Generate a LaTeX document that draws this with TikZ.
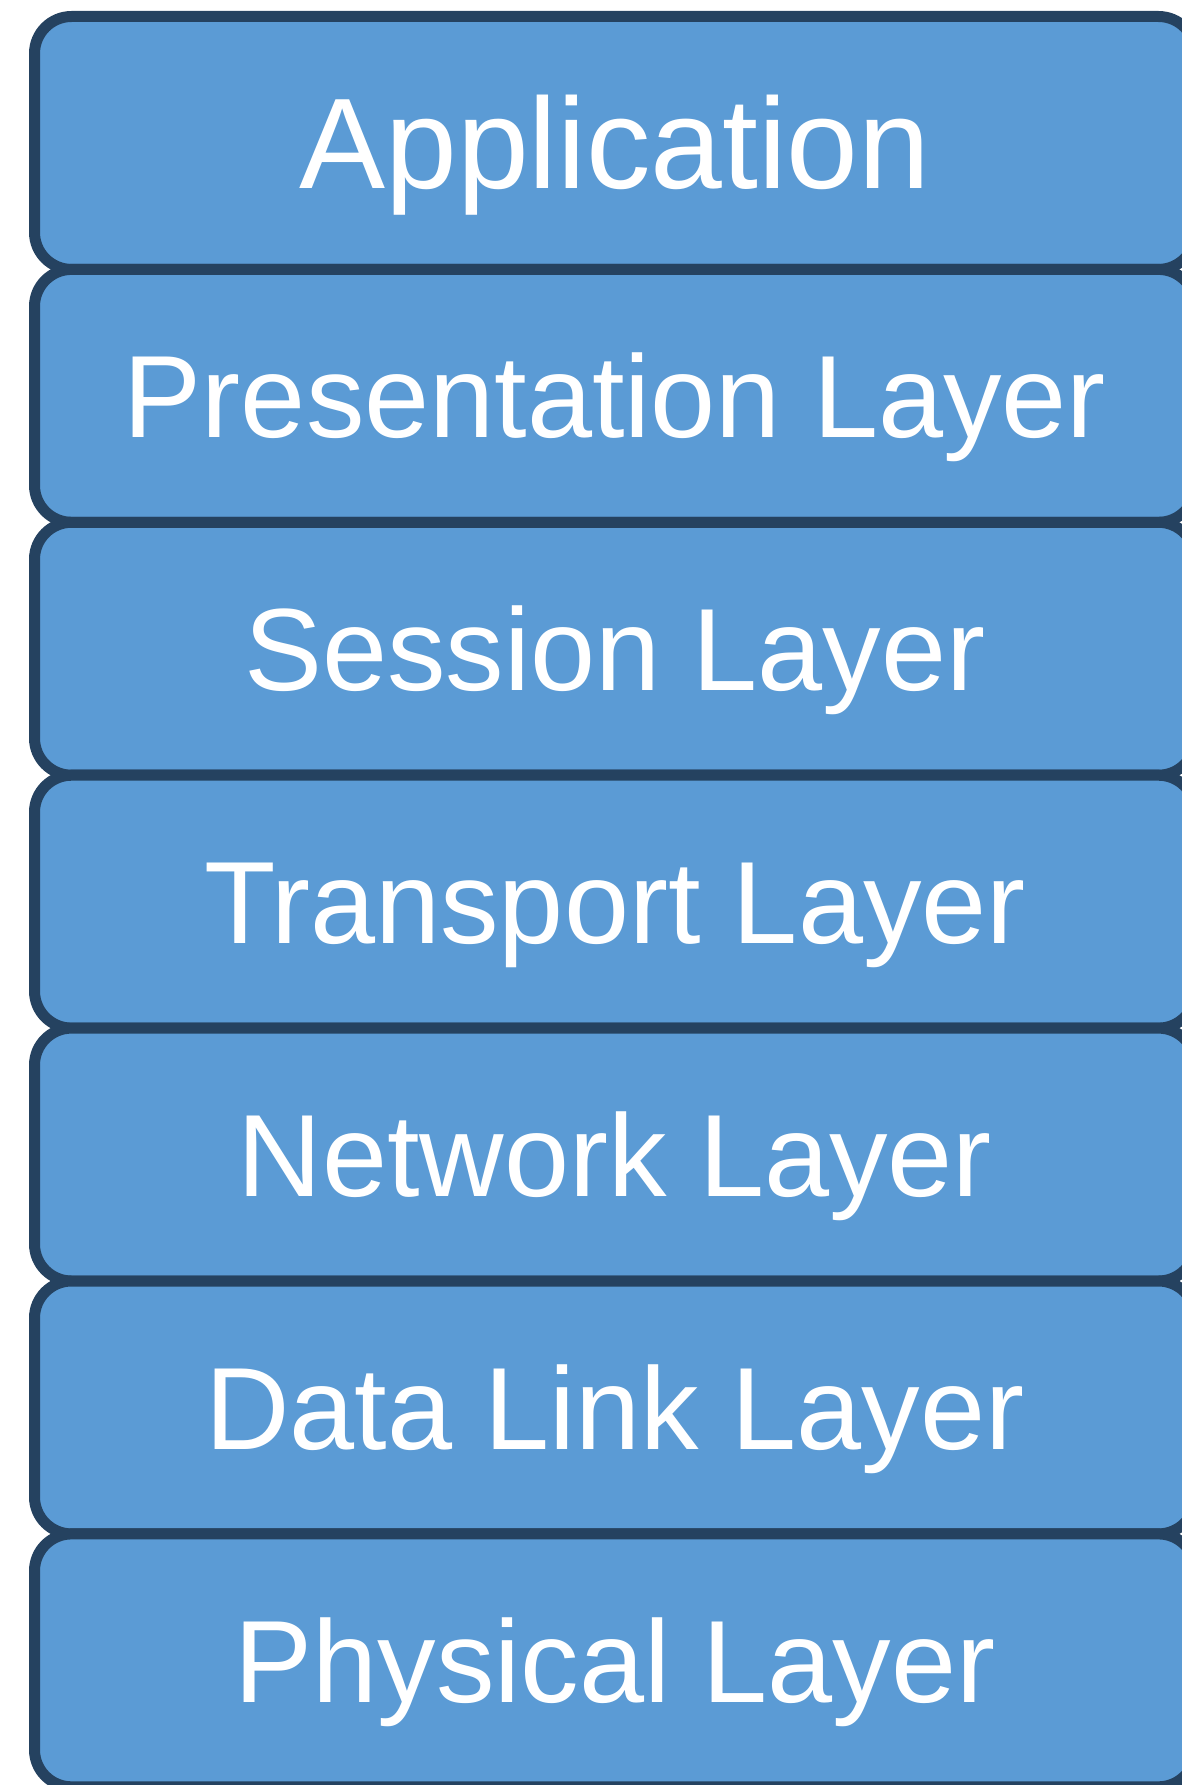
\documentclass[tikz,border=0pt]{standalone}
\usepackage{fontspec}
\setmainfont{Liberation Sans}
\definecolor{layerfill}{HTML}{5B9BD5}
\definecolor{layerline}{HTML}{254260}
\tikzset{
  layerbox/.style={
    rectangle, rounded corners=37pt, draw=layerline, fill=layerfill,
    line width=11pt, minimum width=1161pt, minimum height=252.9pt,
    inner sep=0pt, outer sep=0pt,
    text=white, font=\fontsize{117pt}{140pt}\selectfont,
    text height=84pt, text depth=0pt
  },
  toplabel/.style={font=\fontsize{129pt}{150pt}\selectfont, text height=92pt}
}
\begin{document}
\begin{tikzpicture}[x=1pt,y=-1pt]
  \useasboundingbox (0,0) rectangle (1182,1785);
  \clip (0,0) rectangle (1182,1785);
  \node[layerbox,toplabel] (app) at (615, 142.95) {Application};
  \node[layerbox] (pres)  at (615, 395.85) {Presentation Layer};
  \node[layerbox] (sess)  at (615, 648.75) {Session Layer};
  \node[layerbox] (trans) at (615, 901.65) {Transport Layer};
  \node[layerbox] (net)   at (615, 1154.55) {Network Layer};
  \node[layerbox] (dll)   at (615, 1407.45) {Data Link Layer};
  \node[layerbox] (phys)  at (615, 1660.35) {Physical Layer};
\end{tikzpicture}
\end{document}
